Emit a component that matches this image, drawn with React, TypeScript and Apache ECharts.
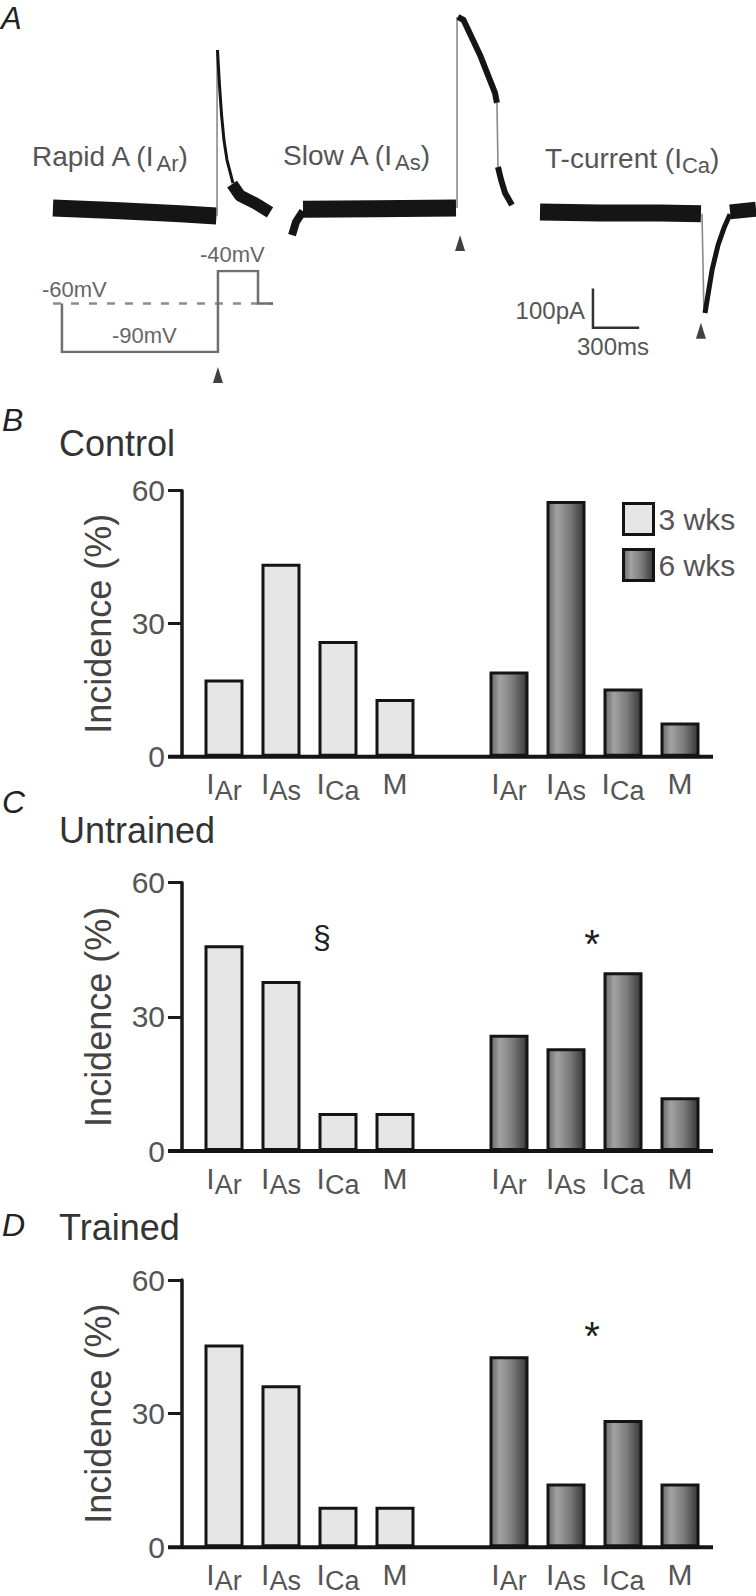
import React, { useEffect, useRef } from 'react';
import * as echarts from 'echarts';

const FONT = '"Liberation Sans", Arial, Helvetica, sans-serif';

// ---------- bar panels (B, C, D) ----------
const categories = ['I_Ar', 'I_As', 'I_Ca', 'M', '', 'I_Ar', 'I_As', 'I_Ca', 'M'];
const yTickInterval = 30;
const yMax = 60;
const legendNames = ['3 wks', '6 wks'];

const controlWk3 = [17.4, 43.5, 26.1, 13.0];
const controlWk6 = [19.2, 57.7, 15.4, 7.7];
const untrainedWk3 = [46, 38, 8.5, 8.5];
const untrainedWk6 = [26, 23, 40, 12];
const trainedWk3 = [45.5, 36.4, 9.1, 9.1];
const trainedWk6 = [42.9, 14.3, 28.6, 14.3];

// ---------- panel A: current traces (time in ms, current in pA) ----------
const rapidBaseline = [[353, 5], [800, -2], [1200, -10], [1443, -16]];
const rapidRise = [[1447, -16], [1447, 421]];
const rapidDecay = [[1450, 421], [1463, 330], [1477, 250], [1493, 184], [1513, 132], [1553, 71]];
const rapidTail = [[1547, 68], [1600, 38], [1700, 18], [1800, -6]];
const slowOnset = [[1947, -66], [1973, -32], [2020, -3]];
const slowBaseline = [[2020, 2], [2500, 3], [3040, 5]];
const slowRise = [[3047, 5], [3047, 508]];
const slowDecay = [[3053, 508], [3090, 500], [3200, 408], [3300, 308], [3313, 282]];
const slowDrop = [[3313, 282], [3320, 113]];
const slowTail = [[3320, 113], [3340, 80], [3367, 45], [3413, 13]];
const tBaseline = [[3600, -5], [4000, -8], [4400, -8], [4673, -10]];
const tDrop = [[4680, -10], [4693, -271]];
const tRecovery = [[4700, -271], [4747, -158], [4787, -92], [4827, -47], [4867, -11]];
const tTail = [[4867, -5], [5040, 2]];
const stimMarks = [[1453, -434], [3067, -87], [4673, -318]];
const scaleBar = [[3953, -210], [3953, -310], [4253, -310]];
// voltage protocol (mV)
const holdingLevel = [[353, -60], [1820, -60]];
const protocolSteps = [[413, -60], [413, -90], [1453, -90], [1453, -40], [1720, -40], [1720, -60], [1820, -60]];

const panels = [
  { letter: 'B', title: 'Control', top: 490.7, height: 266, wk3: controlWk3, wk6: controlWk6, titleY: 443, letterY: 420 },
  { letter: 'C', title: 'Untrained', top: 882.7, height: 268.3, wk3: untrainedWk3, wk6: untrainedWk6, titleY: 830, letterY: 802 },
  { letter: 'D', title: 'Trained', top: 1280, height: 267.3, wk3: trainedWk3, wk6: trainedWk6, titleY: 1227, letterY: 1225 },
];

const labelFormatter = (v: string) => {
  if (!v) return '';
  if (v.startsWith('I_')) return `{i|I}{s|${v.slice(2)}}`;
  return `{m|${v}}`;
};

function buildOption() {
  const grids: any[] = [
    { left: 0, top: 0, width: 756, height: 400 },
    { left: 0, top: 271, width: 756, height: 81 },
  ];
  const xAxes: any[] = [
    { type: 'value', gridIndex: 0, min: 0, max: 5040, show: false },
    { type: 'value', gridIndex: 1, min: 0, max: 5040, show: false },
  ];
  const yAxes: any[] = [
    { type: 'value', gridIndex: 0, min: -500, max: 552.63, show: false },
    { type: 'value', gridIndex: 1, min: -90, max: -40, show: false },
  ];
  const series: any[] = [];
  const graphic: any[] = [];

  const line = (data: number[][], width: number, color: string, axis = 0, extra: any = {}) => ({
    type: 'line',
    xAxisIndex: axis,
    yAxisIndex: axis,
    data,
    symbol: 'none',
    silent: true,
    animation: false,
    lineStyle: { width, color, cap: 'butt', join: 'round', ...(extra.lineStyle || {}) },
    z: extra.z ?? 3,
  });

  const band = 17;
  const dark = '#151515';
  const gray = '#8a8a8a';
  series.push(
    line(rapidBaseline, band, dark),
    line(rapidRise, 1.6, gray),
    line(rapidDecay, 3, dark),
    line(rapidTail, 12, dark),
    line(slowOnset, 8, dark),
    line(slowBaseline, band, dark),
    line(slowRise, 1.6, gray),
    line(slowDecay, 6, dark),
    line(slowDrop, 1.6, gray),
    line(slowTail, 6, dark),
    line(tBaseline, band, dark),
    line(tDrop, 1.6, gray),
    line(tRecovery, 5, dark),
    line(tTail, 15, dark),
    line(scaleBar, 2.5, '#333', 0, { lineStyle: { cap: 'square', join: 'miter' } }),
    {
      type: 'scatter', xAxisIndex: 0, yAxisIndex: 0, data: stimMarks, symbol: 'triangle',
      symbolSize: [10, 16], itemStyle: { color: '#111' }, silent: true,
    },
    line(holdingLevel, 2.5, '#8c8c8c', 1, { lineStyle: { type: [8, 10] } }),
    line(protocolSteps, 2.5, '#6f6f6f', 1, { lineStyle: { join: 'miter' } }),
  );

  const richSub = (big: number, small: number, drop: number, color: string) => ({
    n: { fontSize: big, fontFamily: FONT, color, verticalAlign: 'top', lineHeight: big },
    s: { fontSize: small, fontFamily: FONT, color, padding: [drop, 0, 0, 0], lineHeight: small },
  });

  const textEl = (text: string, x: number, y: number, size: number, color: string, align = 'left', extra: any = {}) => ({
    type: 'text',
    x, y,
    z: 50,
    style: { text, fontSize: size, fontFamily: FONT, fill: color, align, verticalAlign: 'middle', ...extra },
  });

  graphic.push(
    textEl('A', 1, 18, 31, '#222', 'left', { fontStyle: 'italic' }),
    textEl('{n|Rapid A (I}{s|Ar}{n|)}', 32, 156, 28, '#555', 'left', { rich: richSub(28, 22, 14, '#555') }),
    textEl('{n|Slow A (I}{s|As}{n|)}', 283, 155, 28, '#555', 'left', { rich: richSub(28, 22, 14, '#555') }),
    textEl('{n|T-current (I}{s|Ca}{n|)}', 545, 158, 28, '#555', 'left', { rich: richSub(28, 22, 14, '#555') }),
    textEl('-40mV', 200, 254, 22, '#666'),
    textEl('-60mV', 42, 289, 22, '#666'),
    textEl('-90mV', 112, 335, 22, '#666'),
    textEl('100pA', 585, 310, 24, '#555', 'right'),
    textEl('300ms', 613, 346, 24, '#555', 'center'),
  );

  panels.forEach((p, k) => {
    const gi = k + 2;
    grids.push({ left: 195.5, width: 513, top: p.top, height: p.height });
    xAxes.push({
      type: 'category', gridIndex: gi, data: categories,
      axisLine: { show: false }, axisTick: { show: false },
      axisLabel: {
        interval: 0, margin: 12, formatter: labelFormatter,
        rich: {
          i: { fontSize: 30, fontFamily: FONT, color: '#555', verticalAlign: 'top', lineHeight: 30 },
          s: { fontSize: 27, fontFamily: FONT, color: '#555', padding: [14, 0, 0, 0], lineHeight: 27 },
          m: { fontSize: 30, fontFamily: FONT, color: '#555', verticalAlign: 'top', lineHeight: 30 },
        },
      },
    });
    yAxes.push({
      type: 'value', gridIndex: gi, min: 0, max: yMax, interval: yTickInterval, offset: 13.5,
      axisLine: { show: true, lineStyle: { color: '#1a1a1a', width: 3.5 } },
      axisTick: { show: true, length: 14, lineStyle: { color: '#1a1a1a', width: 3 } },
      axisLabel: { fontSize: 30, color: '#555', fontFamily: FONT, margin: 17 },
      splitLine: { show: false },
      name: 'Incidence (%)', nameLocation: 'middle', nameGap: 66,
      nameTextStyle: { fontSize: 36, color: '#444', fontFamily: FONT },
    });
    const empty = ['-', '-', '-', '-', '-'];
    series.push({
      type: 'bar', name: legendNames[0], xAxisIndex: gi, yAxisIndex: gi,
      data: [...p.wk3, ...empty], barWidth: 39, barGap: '-100%',
      itemStyle: { color: '#e6e6e6', borderColor: '#141414', borderWidth: 3 },
      silent: true, z: 2,
    });
    series.push({
      type: 'bar', name: legendNames[1], xAxisIndex: gi, yAxisIndex: gi,
      data: [...empty, ...p.wk6], barWidth: 39, barGap: '-100%',
      itemStyle: {
        color: new echarts.graphic.LinearGradient(0, 0, 1, 0, [
          { offset: 0, color: '#6a6a6a' },
          { offset: 0.25, color: '#a2a2a2' },
          { offset: 0.6, color: '#7c7c7c' },
          { offset: 1, color: '#383838' },
        ]),
        borderColor: '#141414', borderWidth: 3,
      },
      silent: true, z: 2,
    });
    const base = p.top + p.height;
    graphic.push(
      { type: 'line', z: 40, shape: { x1: 168, y1: base, x2: 713, y2: base }, style: { stroke: '#141414', lineWidth: 4 } },
      textEl(p.letter, 2, p.letterY, 32, '#222', 'left', { fontStyle: 'italic' }),
      textEl(p.title, 59, p.titleY, 36, '#333'),
    );
  });

  graphic.push(
    textEl('§', 322, 937, 32, '#222', 'center'),
    textEl('*', 592, 944, 40, '#222', 'center'),
    textEl('*', 592, 1336, 40, '#222', 'center'),
  );

  return {
    animation: false,
    backgroundColor: '#ffffff',
    grid: grids,
    xAxis: xAxes,
    yAxis: yAxes,
    legend: {
      show: true, data: legendNames, left: 617, top: 497, orient: 'vertical',
      itemWidth: 30, itemHeight: 31, itemGap: 12, icon: 'rect', selectedMode: false,
      textStyle: { fontSize: 30, color: '#555', fontFamily: FONT },
      itemStyle: { borderWidth: 3, borderColor: '#141414' },
    },
    series,
    graphic,
  };
}

export default function App() {
  const ref = useRef<HTMLDivElement>(null);
  useEffect(() => {
    if (!ref.current) return;
    const chart = echarts.init(ref.current, null, { renderer: 'svg' });
    chart.setOption(buildOption() as any);
    return () => chart.dispose();
  }, []);
  return (
    <div
      ref={ref}
      style={{ position: 'absolute', left: 0, top: 0, width: 756, height: 1596, background: '#fff' }}
    />
  );
}
